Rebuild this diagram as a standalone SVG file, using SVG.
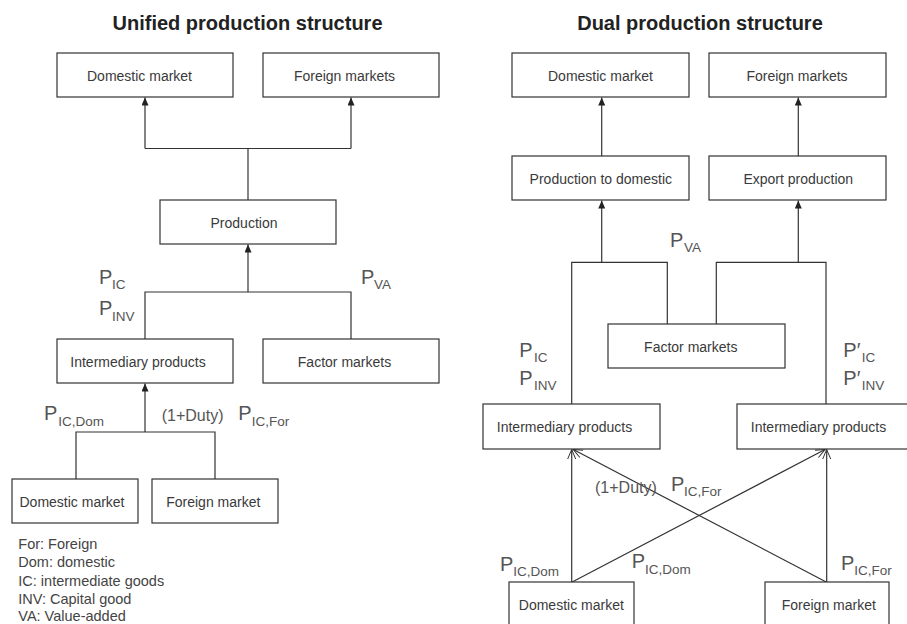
<svg xmlns="http://www.w3.org/2000/svg" width="907" height="624" viewBox="0 0 907 624">
<style>
.title{font-family:"Liberation Sans",Arial,sans-serif;font-size:20px;font-weight:bold;fill:#222;text-anchor:middle}
.box{fill:#fff;stroke:#333;stroke-width:1.2}
.bt{font-family:"Liberation Sans",Arial,sans-serif;font-size:14px;fill:#3a3a3a;text-anchor:middle}
.P{font-family:"Liberation Sans",Arial,sans-serif;font-size:20px;fill:#555}
.s{font-family:"Liberation Sans",Arial,sans-serif;font-size:13.5px;fill:#555}
.d{font-family:"Liberation Sans",Arial,sans-serif;font-size:16px;fill:#555}
.leg{font-family:"Liberation Sans",Arial,sans-serif;font-size:14.5px;fill:#444}
.ln{fill:none;stroke:#333;stroke-width:1.2}
.ah{marker-end:url(#fa)}
.ao{marker-end:url(#oa)}
</style>
<defs>
<marker id="fa" markerUnits="userSpaceOnUse" markerWidth="9" markerHeight="8" refX="8" refY="3.5" orient="auto"><path d="M0,0 L8,3.5 L0,7 z" fill="#222"/></marker>
<marker id="oa" markerUnits="userSpaceOnUse" markerWidth="11" markerHeight="10" refX="9.5" refY="4.5" orient="auto"><path d="M0,0.5 L9.5,4.5 L0,8.5" fill="none" stroke="#333" stroke-width="1"/></marker>
</defs>

<text class="title" x="247.5" y="30">Unified production structure</text>
<text class="title" x="700" y="30">Dual production structure</text>

<g id="connectors">
<path class="ln" d="M145,148.5 H351"/>
<path class="ln ah" d="M145,148.5 V97.5"/>
<path class="ln ah" d="M351,148.5 V97.5"/>
<path class="ln" d="M248,148.5 V200"/>
<path class="ln" d="M145,339 V292 H351 V339"/>
<path class="ln ah" d="M248,292 V244.5"/>
<path class="ln" d="M76,479 V432 H215 V479"/>
<path class="ln ah" d="M145,432 V383.5"/>
<path class="ln ah" d="M601.7,156 V97.5"/>
<path class="ln ah" d="M798.3,156 V97.5"/>
<path class="ln" d="M571.7,404 V262.3 H667.3 V324"/>
<path class="ln" d="M716.3,324 V262.3 H826 V404"/>
<path class="ln ah" d="M601.7,262.3 V200.5"/>
<path class="ln ah" d="M798.3,262.3 V200.5"/>
<path class="ln ao" d="M571.7,582.3 V449.5"/>
<path class="ln ao" d="M571.7,582.3 L825,449.5"/>
<path class="ln ao" d="M826.7,582.3 V449.5"/>
<path class="ln ao" d="M826.7,582.3 L573.3,449.5"/>
</g>

<g id="l-domestic-market"><rect class="box" x="57" y="53" width="176" height="44"/><text class="bt" x="139.5" y="81">Domestic market</text></g>
<g id="l-foreign-markets"><rect class="box" x="263" y="53" width="176" height="44"/><text class="bt" x="344.5" y="81">Foreign markets</text></g>
<g id="l-production"><rect class="box" x="160" y="200" width="176" height="44"/><text class="bt" x="244" y="228">Production</text></g>
<g id="l-intermediary"><rect class="box" x="57" y="339" width="176" height="44"/><text class="bt" x="138" y="367">Intermediary products</text></g>
<g id="l-factor-markets"><rect class="box" x="263" y="339" width="176" height="44"/><text class="bt" x="344.5" y="367">Factor markets</text></g>
<g id="l-dom-market-bottom"><rect class="box" x="12" y="479" width="126" height="44"/><text class="bt" x="72" y="507">Domestic market</text></g>
<g id="l-for-market-bottom"><rect class="box" x="152" y="479" width="126" height="44"/><text class="bt" x="213.3" y="507">Foreign market</text></g>

<g id="r-domestic-market"><rect class="box" x="512" y="53" width="177" height="44"/><text class="bt" x="600.5" y="81">Domestic market</text></g>
<g id="r-foreign-markets"><rect class="box" x="709" y="53" width="177" height="44"/><text class="bt" x="797" y="81">Foreign markets</text></g>
<g id="r-prod-domestic"><rect class="box" x="512" y="156" width="177" height="44"/><text class="bt" x="600.8" y="184">Production to domestic</text></g>
<g id="r-export-production"><rect class="box" x="709" y="156" width="177" height="44"/><text class="bt" x="798.3" y="184">Export production</text></g>
<g id="r-factor-markets"><rect class="box" x="608" y="324" width="177" height="44"/><text class="bt" x="690.8" y="352">Factor markets</text></g>
<g id="r-intermediary-left"><rect class="box" x="483" y="404" width="177" height="45"/><text class="bt" x="564.5" y="432">Intermediary products</text></g>
<g id="r-intermediary-right"><rect class="box" x="737" y="404" width="177" height="45"/><text class="bt" x="818.5" y="432">Intermediary products</text></g>
<g id="r-dom-market-bottom"><rect class="box" x="509" y="582" width="125" height="50"/><text class="bt" x="571.3" y="610">Domestic market</text></g>
<g id="r-for-market-bottom"><rect class="box" x="765" y="582" width="124" height="50"/><text class="bt" x="828.8" y="610">Foreign market</text></g>

<g id="labels">
<text class="P" x="99" y="284">P</text><text class="s" x="112" y="289">IC</text>
<text class="P" x="99" y="315">P</text><text class="s" x="112" y="320.5">INV</text>
<text class="P" x="361" y="284">P</text><text class="s" x="374" y="289">VA</text>
<text class="P" x="44" y="420">P</text><text class="s" x="58.3" y="426">IC,Dom</text>
<text class="d" x="161.7" y="421">(1+Duty)</text>
<text class="P" x="238.3" y="420">P</text><text class="s" x="251.7" y="426">IC,For</text>
<text class="P" x="670" y="246.7">P</text><text class="s" x="684" y="251.7">VA</text>
<text class="P" x="519.3" y="356.7">P</text><text class="s" x="534" y="362.3">IC</text>
<text class="P" x="519.3" y="385">P</text><text class="s" x="534" y="390">INV</text>
<text class="P" x="843.3" y="356.7">P′</text><text class="s" x="861.7" y="362.3">IC</text>
<text class="P" x="843.3" y="385">P′</text><text class="s" x="861.7" y="390">INV</text>
<text class="d" x="595" y="493.3">(1+Duty)</text>
<text class="P" x="671" y="490.7">P</text><text class="s" x="684" y="496">IC,For</text>
<text class="P" x="500" y="570.7">P</text><text class="s" x="513.3" y="575.7">IC,Dom</text>
<text class="P" x="631.7" y="568.3">P</text><text class="s" x="645" y="574">IC,Dom</text>
<text class="P" x="841" y="570">P</text><text class="s" x="854.3" y="575">IC,For</text>
</g>

<g id="legend">
<text class="leg" x="18.3" y="548.5">For: Foreign</text>
<text class="leg" x="18.3" y="567">Dom: domestic</text>
<text class="leg" x="18.3" y="585.5">IC: intermediate goods</text>
<text class="leg" x="18.3" y="604">INV: Capital good</text>
<text class="leg" x="18.3" y="621">VA: Value-added</text>
</g>
</svg>
